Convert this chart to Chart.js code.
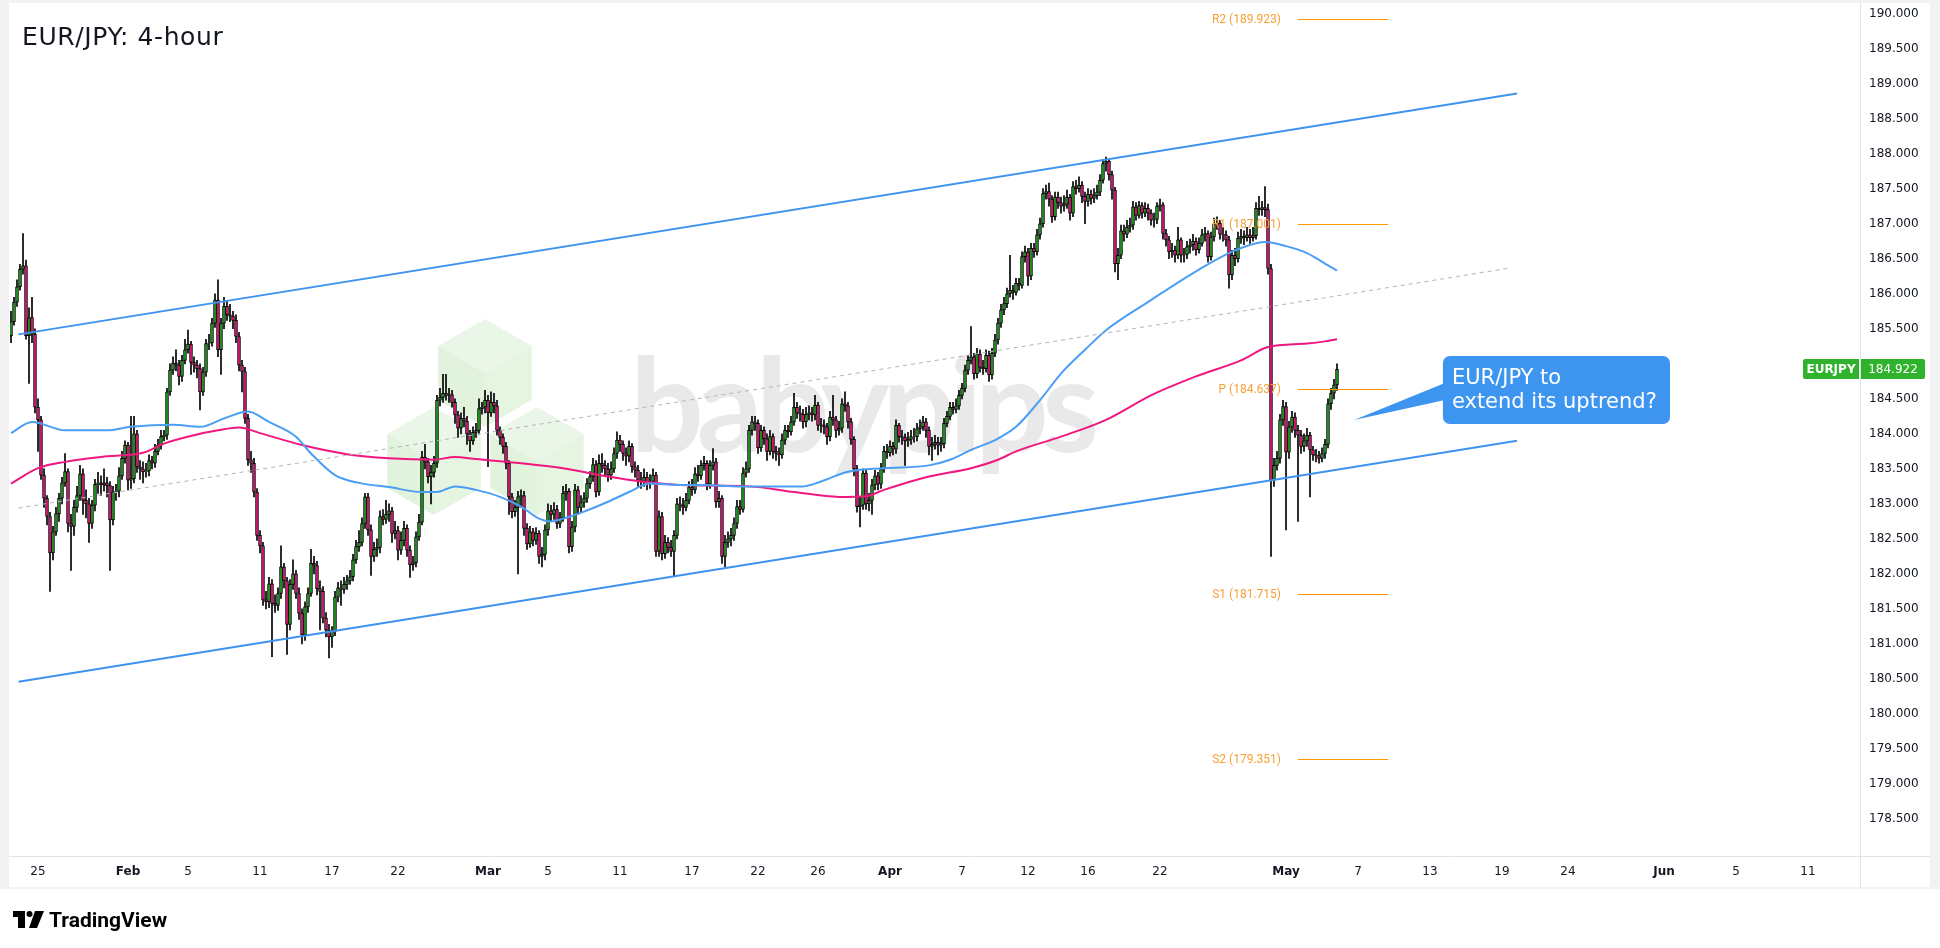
<!DOCTYPE html>
<html>
<head>
<meta charset="utf-8">
<title>EUR/JPY 4-hour</title>
<script src="https://cdn.jsdelivr.net/npm/chart.js@4.4.1/dist/chart.umd.min.js"></script>
<style>
  html, body { margin: 0; padding: 0; background: #fff; }
  canvas { display: block; }
</style>
</head>
<body>
<canvas id="chart" width="1940" height="948"></canvas>
<script>
// 4h candles (open = previous close)
const firstOpen = 185.40;
const closes = [
  185.60,185.88,186.10,186.35,186.40,185.40,185.66,185.42,184.38,184.20,
  183.41,183.08,182.82,182.30,182.60,182.86,183.08,183.30,183.46,182.72,
  182.68,182.95,183.12,183.43,183.05,183.00,182.72,182.98,183.28,183.30,
  183.27,183.30,183.26,182.77,183.17,183.18,183.40,183.65,183.84,183.34,
  183.36,184.00,183.53,183.50,183.46,183.47,183.62,183.58,183.75,183.84,
  183.96,183.98,184.60,184.91,185.01,184.98,184.82,185.05,185.20,185.28,
  185.02,184.98,184.93,184.60,184.88,185.29,185.30,185.58,185.91,185.20,
  185.58,185.82,185.70,185.68,185.62,185.39,184.98,184.89,184.22,183.63,
  183.58,183.17,182.55,182.40,181.63,181.60,181.86,181.58,181.55,181.72,
  182.10,181.90,181.28,181.85,182.00,181.72,181.44,181.13,181.53,181.72,
  182.15,182.12,181.79,181.75,181.37,181.20,181.10,181.18,181.67,181.80,
  181.78,181.85,181.90,181.96,182.20,182.39,182.45,182.72,183.10,182.63,
  182.25,182.35,182.38,182.82,182.78,182.85,182.90,182.58,182.62,182.34,
  182.48,182.65,182.34,182.13,182.16,182.53,182.74,183.67,183.60,183.39,
  183.45,183.58,184.48,184.52,184.58,184.55,184.56,184.45,184.27,184.08,
  184.22,184.18,184.00,183.90,184.02,184.05,184.36,184.38,184.48,184.30,
  184.45,184.40,184.05,183.95,183.82,183.58,183.10,182.89,182.95,183.10,
  183.12,182.65,182.43,182.60,182.48,182.58,182.25,182.28,182.63,182.90,
  182.85,182.92,182.72,182.80,183.15,183.18,182.39,182.67,183.20,182.95,
  183.02,183.08,183.29,183.39,183.56,183.17,183.58,183.55,183.50,183.41,
  183.50,183.72,183.91,183.85,183.72,183.68,183.82,183.53,183.48,183.34,
  183.32,183.38,183.30,183.32,183.41,182.32,182.82,182.29,182.45,182.38,
  182.32,182.55,183.00,182.98,182.95,183.05,183.24,183.20,183.43,183.40,
  183.55,183.58,183.28,183.55,183.60,183.03,183.08,182.25,182.45,182.50,
  182.55,182.72,182.96,182.92,183.44,183.50,184.05,184.17,184.15,183.80,
  184.05,183.93,183.75,183.96,183.75,183.72,183.70,183.91,184.05,184.03,
  184.17,184.38,184.30,184.28,184.17,184.28,184.30,184.27,184.41,184.12,
  184.13,184.10,183.96,184.24,184.20,184.05,184.08,184.43,184.40,184.17,
  183.92,183.50,182.96,182.98,183.44,183.00,183.05,183.27,183.40,183.28,
  183.50,183.75,183.73,183.82,183.78,184.12,183.96,183.95,183.90,183.92,
  183.96,183.96,184.07,184.10,184.17,184.05,183.82,183.85,183.88,183.84,
  183.86,184.15,184.25,184.38,184.35,184.40,184.55,184.65,184.91,185.05,
  185.10,184.86,185.14,184.95,184.93,185.12,184.84,185.15,185.34,185.58,
  185.77,185.86,186.00,186.05,186.02,186.15,186.12,186.53,186.60,186.25,
  186.65,186.60,186.84,187.00,187.43,187.46,187.35,187.10,187.38,187.30,
  187.25,187.28,187.38,187.15,187.53,187.50,187.55,187.39,187.32,187.42,
  187.36,187.40,187.45,187.62,187.86,187.89,187.70,187.48,186.43,186.55,
  186.90,186.85,186.95,186.98,187.24,187.12,187.26,187.15,187.22,187.15,
  187.05,187.06,187.25,187.27,186.86,186.77,186.60,186.62,186.55,186.77,
  186.55,186.56,186.67,186.70,186.75,186.63,186.72,186.84,186.86,186.53,
  186.81,187.00,187.01,186.85,186.84,186.77,186.27,186.55,186.50,186.79,
  186.82,186.80,186.84,186.80,186.83,187.22,187.20,187.23,187.20,186.36,
  183.34,183.55,183.65,184.20,184.39,183.74,184.10,184.24,184.05,183.98,
  183.82,183.90,183.98,183.77,183.70,183.69,183.65,183.72,183.85,184.43,
  184.58,184.70,184.92
];
const highs = [
  185.75,185.95,186.20,186.42,186.86,186.48,185.80,185.95,185.50,184.50,
  184.25,183.50,183.12,182.88,182.68,182.95,183.15,183.38,183.72,183.50,
  182.85,183.05,183.25,183.55,183.50,183.20,183.08,183.05,183.35,183.45,
  183.40,183.50,183.38,183.32,183.25,183.28,183.52,183.75,183.90,183.88,
  184.25,184.25,184.05,183.62,183.60,183.58,183.70,183.68,183.85,183.92,
  184.05,184.05,184.65,185.00,185.10,185.20,185.05,185.12,185.35,185.48,
  185.32,185.10,185.05,185.00,184.95,185.35,185.42,185.65,186.00,186.20,
  185.65,185.95,185.90,185.85,185.75,185.70,185.45,185.05,184.95,184.28,
  183.75,183.65,183.22,182.62,182.45,181.75,181.95,181.92,181.70,181.80,
  182.40,182.15,181.95,181.92,182.20,182.05,181.80,181.50,181.60,181.80,
  182.35,182.25,182.18,181.90,181.82,181.45,181.28,181.25,181.75,181.88,
  181.90,181.95,181.98,182.05,182.28,182.48,182.62,182.80,183.15,183.15,
  182.70,182.45,182.50,182.90,182.92,183.05,183.00,182.95,182.75,182.68,
  182.60,182.75,182.70,182.40,182.25,182.60,182.85,183.75,183.85,183.65,
  183.55,183.68,184.55,184.65,184.85,184.85,184.65,184.62,184.50,184.32,
  184.30,184.38,184.25,184.05,184.10,184.15,184.50,184.45,184.62,184.55,
  184.60,184.58,184.48,184.10,184.00,183.88,183.62,183.15,183.05,183.18,
  183.20,183.18,182.72,182.68,182.65,182.66,182.62,182.38,182.70,183.00,
  182.98,183.02,182.98,182.88,183.25,183.28,183.22,182.75,183.28,183.25,
  183.12,183.16,183.36,183.46,183.65,183.62,183.70,183.72,183.62,183.58,
  183.60,183.80,184.03,183.98,183.90,183.80,183.90,183.86,183.60,183.55,
  183.45,183.50,183.45,183.42,183.50,183.45,182.90,182.88,182.55,182.52,
  182.48,182.62,183.08,183.10,183.08,183.15,183.32,183.35,183.52,183.55,
  183.62,183.68,183.62,183.62,183.79,183.65,183.18,183.12,182.55,182.60,
  182.65,182.80,183.05,183.05,183.52,183.60,184.12,184.25,184.25,184.20,
  184.12,184.10,184.00,184.05,184.00,183.82,183.80,184.00,184.12,184.12,
  184.25,184.58,184.45,184.40,184.35,184.38,184.40,184.38,184.55,184.45,
  184.22,184.20,184.15,184.32,184.55,184.25,184.18,184.50,184.60,184.45,
  184.22,183.96,183.55,183.10,183.50,183.48,183.15,183.35,183.48,183.45,
  183.58,183.82,183.85,183.90,183.88,184.20,184.15,184.05,184.00,184.02,
  184.05,184.08,184.15,184.20,184.25,184.22,184.10,183.95,183.98,183.95,
  183.95,184.22,184.32,184.45,184.45,184.50,184.62,184.72,184.98,185.12,
  185.53,185.15,185.22,185.20,185.05,185.20,185.18,185.22,185.42,185.65,
  185.85,185.95,186.08,186.55,186.12,186.22,186.22,186.60,186.68,186.65,
  186.72,186.72,186.92,187.08,187.50,187.55,187.58,187.40,187.45,187.45,
  187.38,187.40,187.48,187.42,187.60,187.62,187.67,187.60,187.45,187.50,
  187.48,187.50,187.55,187.70,187.92,187.95,187.92,187.75,187.52,186.65,
  186.98,186.98,187.05,187.08,187.32,187.30,187.32,187.30,187.30,187.28,
  187.20,187.15,187.30,187.35,187.30,186.92,186.82,186.72,186.68,186.95,
  186.80,186.65,186.75,186.78,186.85,186.80,186.80,186.92,186.95,186.90,
  186.88,187.08,187.10,187.05,186.95,186.90,186.82,186.62,186.65,186.88,
  186.92,186.90,186.95,186.92,186.95,187.30,187.39,187.32,187.53,187.28,
  186.42,183.65,183.75,184.28,184.48,184.45,184.18,184.32,184.30,184.12,
  184.05,184.00,184.08,184.02,183.82,183.78,183.75,183.80,183.92,184.50,
  184.65,184.78,185.00
];
const lows = [
  185.30,185.55,185.82,186.05,186.28,185.35,184.72,185.30,184.30,183.75,
  183.35,182.95,182.70,181.75,182.20,182.55,182.75,183.00,183.25,182.60,
  182.05,182.55,182.88,183.05,182.85,182.80,182.45,182.65,182.90,183.15,
  183.12,183.18,183.10,182.05,182.70,183.05,183.10,183.35,183.58,183.20,
  183.22,183.30,183.45,183.35,183.30,183.38,183.40,183.50,183.52,183.70,
  183.78,183.90,183.92,184.55,184.85,184.90,184.70,184.75,185.00,185.15,
  184.85,184.88,184.80,184.34,184.55,184.82,185.20,185.25,185.52,185.10,
  184.85,185.50,185.62,185.60,185.50,185.30,184.90,184.60,184.15,183.55,
  183.45,183.10,182.48,182.30,181.55,181.50,181.52,180.82,181.45,181.48,
  181.65,181.80,180.85,181.20,181.78,181.65,181.35,181.00,181.05,181.45,
  181.68,182.00,181.70,181.20,181.30,181.10,180.80,180.95,181.12,181.60,
  181.55,181.72,181.78,181.85,181.90,182.15,182.32,182.40,182.65,182.55,
  181.98,182.18,182.25,182.30,182.70,182.72,182.75,182.45,182.50,182.20,
  182.28,182.40,182.25,181.95,182.05,182.10,182.48,182.70,183.50,183.30,
  183.00,183.38,183.52,184.40,184.45,184.48,184.45,184.38,184.15,183.95,
  184.00,184.10,183.85,183.75,183.85,183.95,184.00,184.28,184.30,183.53,
  184.25,184.30,183.98,183.85,183.72,183.50,182.85,182.80,182.82,182.00,
  182.95,182.55,182.35,182.38,182.40,182.42,182.15,182.10,182.20,182.55,
  182.75,182.78,182.65,182.66,182.75,183.05,182.30,182.32,182.60,182.85,
  182.88,182.95,183.02,183.22,183.32,183.10,183.12,183.45,183.40,183.32,
  183.35,183.45,183.65,183.75,183.62,183.55,183.60,183.45,183.38,183.25,
  183.22,183.25,183.20,183.22,183.28,182.25,182.25,182.20,182.22,182.30,
  182.25,181.96,182.50,182.90,182.85,182.90,183.00,183.12,183.15,183.32,
  183.35,183.48,183.20,183.22,183.48,182.95,182.95,182.15,182.10,182.38,
  182.40,182.48,182.65,182.85,182.88,183.38,183.45,183.98,184.05,183.72,
  183.75,183.85,183.62,183.70,183.65,183.62,183.55,183.65,183.85,183.95,
  183.98,184.12,184.22,184.18,184.08,184.10,184.20,184.18,184.20,184.05,
  184.02,184.00,183.85,183.90,184.12,183.95,183.98,184.02,184.32,184.08,
  183.85,183.40,182.88,182.67,182.92,182.92,182.90,182.85,183.20,183.20,
  183.22,183.45,183.65,183.68,183.70,183.72,183.88,183.85,183.55,183.82,
  183.85,183.88,183.90,184.00,184.05,183.95,183.70,183.62,183.78,183.70,
  183.75,183.80,184.10,184.20,184.28,184.30,184.35,184.50,184.60,184.85,
  185.00,184.78,184.80,184.88,184.85,184.88,184.75,184.78,185.10,185.28,
  185.52,185.70,185.80,185.95,185.92,185.98,186.05,186.08,186.45,186.12,
  186.20,186.52,186.55,186.78,186.95,187.35,187.25,187.02,187.05,187.22,
  187.15,187.18,187.22,187.05,187.10,187.42,187.45,187.30,187.00,187.25,
  187.28,187.30,187.35,187.40,187.58,187.75,187.62,187.35,186.31,186.20,
  186.50,186.75,186.80,186.88,186.92,187.05,187.08,187.08,187.10,187.05,
  186.98,186.95,187.00,187.18,186.78,186.68,186.50,186.52,186.45,186.50,
  186.45,186.45,186.50,186.58,186.62,186.55,186.58,186.68,186.75,186.45,
  186.48,186.75,186.92,186.78,186.75,186.68,186.08,186.20,186.40,186.45,
  186.72,186.70,186.75,186.72,186.75,186.78,187.12,187.12,187.10,186.28,
  182.25,183.25,183.48,183.58,184.12,182.63,183.65,184.02,183.95,182.75,
  183.72,183.75,183.82,183.10,183.62,183.60,183.58,183.60,183.65,183.80,
  184.35,184.50,184.62
];

// moving averages as [bar, price]
const smaBlue = [
  [0,184.01],[7,184.17],[18,184.05],[32,184.05],[40,184.10],[54,184.13],[63,184.10],
  [71,184.22],[79,184.32],[86,184.17],[95,183.96],[100,183.72],[108,183.41],[116,183.30],
  [126,183.24],[137,183.17],[142,183.17],[148,183.25],[155,183.20],[163,183.10],[170,182.96],
  [176,182.79],[180,182.75],[184,182.79],[191,182.89],[199,183.03],[206,183.17],[213,183.29],
  [223,183.27],[231,183.27],[243,183.25],[264,183.25],[270,183.32],[279,183.46],[291,183.51],
  [306,183.55],[313,183.63],[320,183.77],[328,183.91],[335,184.10],[343,184.48],[350,184.86],
  [358,185.20],[365,185.48],[380,185.91],[395,186.32],[408,186.62],[418,186.74],[425,186.68],
  [432,186.58],[438,186.43],[442,186.33]
];
const smaPink = [
  [0,183.29],[9,183.51],[18,183.60],[32,183.68],[44,183.73],[51,183.86],[61,183.98],
  [69,184.05],[76,184.09],[83,184.01],[97,183.84],[112,183.71],[126,183.65],[141,183.63],
  [148,183.67],[155,183.64],[170,183.58],[184,183.51],[199,183.39],[210,183.32],[223,183.27],
  [246,183.25],[261,183.17],[276,183.10],[285,183.11],[291,183.20],[306,183.39],[320,183.51],
  [329,183.63],[335,183.75],[350,183.96],[365,184.20],[380,184.55],[395,184.82],[410,185.05],
  [419,185.24],[432,185.29],[438,185.32],[442,185.35]
];

// channel drawn on the chart, [bar, price] end points
const channelTop = [[2.5,185.42],[502,188.86]];
const channelMid = [[2.5,182.94],[500,186.37]];
const channelLow = [[2.5,180.46],[502,183.90]];

const pivotNames = ['R2','R1','P','S1','S2'];
const pivotValues = [189.923, 187.001, 184.637, 181.715, 179.351];

const dateTickBars = [9,39,59,83,107,129,159,179,203,227,249,269,293,317,339,359,383,425,449,473,497,519,551,575,599];
const dateTickLabels = ['25','Feb','5','11','17','22','Mar','5','11','17','22','26','Apr','7','12','16','22','May','7','13','19','24','Jun','5','11'];
const monthLabels = ['Jan','Feb','Mar','Apr','May','Jun'];
// 185.000 is hidden behind the last-price tag
const priceTicks = [178.5,179,179.5,180,180.5,181,181.5,182,182.5,183,183.5,184,184.5,185.5,186,186.5,187,187.5,188,188.5,189,189.5,190];
const lastPrice = 184.922;

const UP = '#23a523';
const DOWN = '#f0187f';
const BLUE = '#3f93f0';
const TAG_GREEN = '#2fb32c';
const ORANGE = '#ff9800';

Chart.defaults.font.family = 'DejaVu Sans';

const opens = closes.map((c, i) => i === 0 ? firstOpen : closes[i - 1]);
const pts = arr => arr.map(p => ({ x: p[0], y: p[1] }));

function poly(ctx, p, color) {
  ctx.beginPath();
  ctx.moveTo(p[0][0], p[0][1]);
  for (let k = 1; k < p.length; k++) ctx.lineTo(p[k][0], p[k][1]);
  ctx.closePath();
  ctx.fillStyle = color;
  ctx.fill();
}

function cube(ctx, cx, cy, r) {
  const w = r * 0.866;
  const top = [cx, cy - r], ur = [cx + w, cy - r / 2], lr = [cx + w, cy + r / 2];
  const bot = [cx, cy + r], ll = [cx - w, cy + r / 2], ul = [cx - w, cy - r / 2], c = [cx, cy];
  poly(ctx, [top, ur, c, ul], '#eaf6e7');
  poly(ctx, [ul, c, bot, ll], '#e1f3dd');
  poly(ctx, [c, ur, lr, bot], '#e6f5e2');
}

// frame + watermark behind the candles
const backdrop = {
  id: 'backdrop',
  beforeDraw(chart) {
    const ctx = chart.ctx;
    ctx.save();
    ctx.fillStyle = '#ffffff';
    ctx.fillRect(0, 0, 1940, 948);
    ctx.fillStyle = '#f2f2f2';
    ctx.fillRect(0, 0, 1940, 889);
    ctx.fillStyle = '#ffffff';
    ctx.fillRect(9, 3, 1921, 884);
    ctx.restore();
  },
  beforeDatasetsDraw(chart) {
    const ctx = chart.ctx;
    ctx.save();
    cube(ctx, 485, 373, 54);
    cube(ctx, 434, 461, 54);
    cube(ctx, 537, 461, 54);
    ctx.fillStyle = 'rgba(226,226,226,0.75)';
    ctx.font = 'bold 130px Lato';
    ctx.letterSpacing = '-7px';
    ctx.textBaseline = 'alphabetic';
    ctx.fillText('babypips', 630, 452);
    ctx.restore();
  }
};

// pivots, callout, price tag, title, logo
const overlay = {
  id: 'overlay',
  afterDatasetsDraw(chart) {
    const { ctx, scales: { x, y } } = chart;
    ctx.save();
    ctx.font = '12px Roboto';
    ctx.textAlign = 'right';
    ctx.textBaseline = 'middle';
    pivotValues.forEach((v, k) => {
      const py = Math.round(y.getPixelForValue(v)) + 0.5;
      const x0 = x.getPixelForValue(429), x1 = x.getPixelForValue(459);
      ctx.strokeStyle = ORANGE;
      ctx.lineWidth = 1;
      ctx.beginPath();
      ctx.moveTo(x0, py);
      ctx.lineTo(x1, py);
      ctx.stroke();
      ctx.fillStyle = '#f7a035';
      ctx.fillText(pivotNames[k] + ' (' + v.toFixed(3) + ')', x0 - 17, py);
    });

    // callout bubble
    const bl = x.getPixelForValue(477.3), br = x.getPixelForValue(553);
    const bt = y.getPixelForValue(185.112), bb = y.getPixelForValue(184.141);
    ctx.fillStyle = '#3d95ef';
    ctx.beginPath();
    ctx.roundRect(bl, bt, br - bl, bb - bt, 7);
    ctx.fill();
    ctx.beginPath();
    ctx.moveTo(bl + 2, y.getPixelForValue(184.727));
    ctx.lineTo(bl + 2, y.getPixelForValue(184.483));
    ctx.lineTo(x.getPixelForValue(447.7), y.getPixelForValue(184.198));
    ctx.closePath();
    ctx.fill();
    ctx.fillStyle = '#ffffff';
    ctx.textAlign = 'left';
    ctx.textBaseline = 'alphabetic';
    ctx.font = '21px "DejaVu Sans"';
    ctx.fillText('EUR/JPY to', bl + 9, bt + 28);
    ctx.fillText('extend its uptrend?', bl + 9, bt + 52);
    ctx.restore();
  },
  afterDraw(chart) {
    const { ctx, scales: { y } } = chart;
    ctx.save();
    // axis frame lines
    ctx.strokeStyle = '#e0e3eb';
    ctx.lineWidth = 1;
    ctx.beginPath();
    ctx.moveTo(9, 856.5); ctx.lineTo(1930, 856.5);
    ctx.moveTo(1860.5, 3); ctx.lineTo(1860.5, 887);
    ctx.stroke();

    // last price tag
    const ty = Math.round(y.getPixelForValue(lastPrice));
    ctx.fillStyle = TAG_GREEN;
    ctx.beginPath();
    ctx.roundRect(1803, ty - 10, 56, 20, [2, 0, 0, 2]);
    ctx.fill();
    ctx.beginPath();
    ctx.roundRect(1861, ty - 10, 64, 20, [0, 2, 2, 0]);
    ctx.fill();
    ctx.fillStyle = '#ffffff';
    ctx.font = 'bold 12px "DejaVu Sans"';
    ctx.textAlign = 'center';
    ctx.textBaseline = 'middle';
    ctx.fillText('EURJPY', 1831, ty + 1);
    ctx.font = '12px "DejaVu Sans"';
    ctx.fillText(lastPrice.toFixed(3), 1893, ty + 1);

    // title
    ctx.fillStyle = '#131722';
    ctx.textAlign = 'left';
    ctx.textBaseline = 'alphabetic';
    ctx.font = '25px "DejaVu Sans"';
    ctx.letterSpacing = '0.6px';
    ctx.fillText('EUR/JPY: 4-hour', 22, 45);
    ctx.letterSpacing = '0px';

    // TradingView logo
    ctx.fillStyle = '#000000';
    ctx.fillRect(13, 911, 12, 6);
    ctx.fillRect(18, 911, 7, 17);
    ctx.beginPath();
    ctx.arc(29.5, 914, 3, 0, Math.PI * 2);
    ctx.fill();
    ctx.beginPath();
    ctx.moveTo(35, 911); ctx.lineTo(44, 911); ctx.lineTo(37, 928); ctx.lineTo(29, 928);
    ctx.closePath();
    ctx.fill();
    ctx.font = 'bold 21px Roboto';
    ctx.fillText('TradingView', 49, 927);
    ctx.restore();
  }
};

new Chart(document.getElementById('chart'), {
  type: 'bar',
  data: {
    datasets: [
      { type: 'line', data: pts(channelTop), borderColor: BLUE, borderWidth: 2, pointRadius: 0, order: 0 },
      { type: 'line', data: pts(channelLow), borderColor: BLUE, borderWidth: 2, pointRadius: 0, order: 0 },
      { type: 'line', data: pts(channelMid), borderColor: '#b2b5be', borderWidth: 1, borderDash: [4, 4], pointRadius: 0, order: 0 },
      { type: 'line', data: pts(smaBlue), borderColor: '#4a9ef5', borderWidth: 2, pointRadius: 0, cubicInterpolationMode: 'monotone', order: 1 },
      { type: 'line', data: pts(smaPink), borderColor: '#f0187f', borderWidth: 2, pointRadius: 0, cubicInterpolationMode: 'monotone', order: 1 },
      {
        data: closes.map((c, i) => ({ x: i, y: [lows[i], highs[i]] })),
        backgroundColor: '#000000', borderWidth: 0, barThickness: 1, grouped: false, order: 5
      },
      {
        data: closes.map((c, i) => ({ x: i, y: [opens[i], c] })),
        backgroundColor: closes.map((c, i) => c >= opens[i] ? UP : DOWN),
        borderColor: '#000000', borderWidth: 1, borderSkipped: false,
        barThickness: 3, grouped: false, order: 4
      }
    ]
  },
  options: {
    responsive: false,
    animation: false,
    devicePixelRatio: 1,
    events: [],
    layout: { padding: { left: 10, top: 3, right: 10, bottom: 61 } },
    plugins: { legend: { display: false }, tooltip: { enabled: false } },
    scales: {
      x: {
        type: 'linear',
        min: -0.333,
        max: 616.333,
        offset: false,
        grid: { display: false, drawTicks: false },
        border: { display: false },
        afterBuildTicks: s => { s.ticks = dateTickBars.map(v => ({ value: v })); },
        afterFit: s => { s.height = 31; s.paddingLeft = 0; s.paddingRight = 0; },
        ticks: {
          autoSkip: false,
          maxRotation: 0,
          padding: 9,
          color: '#131722',
          callback: (v, i) => dateTickLabels[i],
          font: c => ({ family: 'DejaVu Sans', size: 12, weight: monthLabels.includes(dateTickLabels[c.index]) ? 'bold' : 'normal' })
        }
      },
      y: {
        position: 'right',
        min: 177.973,
        max: 190.151,
        grid: { display: false, drawTicks: false },
        border: { display: false },
        afterBuildTicks: s => { s.ticks = priceTicks.map(v => ({ value: v })); },
        afterFit: s => { s.width = 70; s.paddingTop = 0; s.paddingBottom = 0; },
        ticks: {
          padding: 9,
          color: '#131722',
          font: { size: 12 },
          callback: v => v.toFixed(3)
        }
      }
    }
  },
  plugins: [backdrop, overlay]
});
</script>
</body>
</html>
